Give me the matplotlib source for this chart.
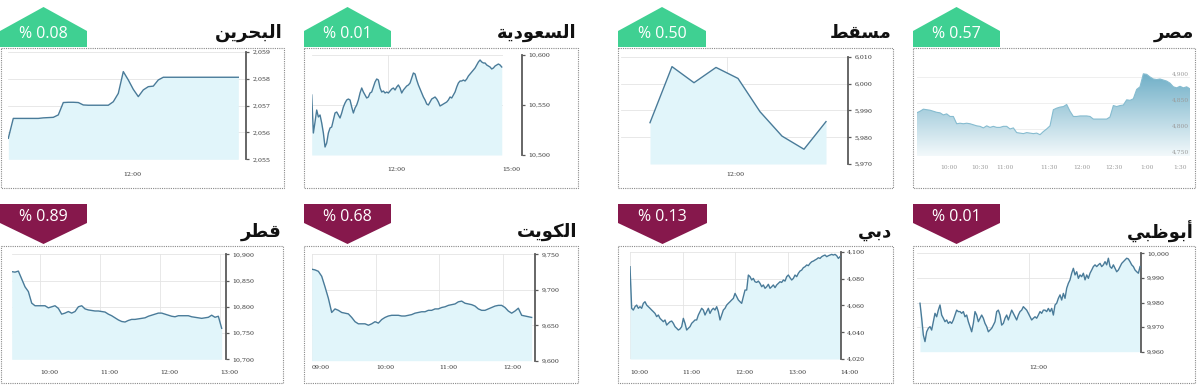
import numpy as np
import matplotlib.pyplot as plt
from matplotlib.patches import Polygon, Rectangle
from matplotlib.colors import LinearSegmentedColormap
from matplotlib.transforms import blended_transform_factory

W, H = 1200, 391

# ---------------- data ----------------
names = ['البحرين', 'السعودية', 'مسقط', 'مصر', 'قطر', 'الكويت', 'دبي', 'أبوظبي']
changes = ['% 0.08', '% 0.01', '% 0.50', '% 0.57', '% 0.89', '% 0.68', '% 0.13', '% 0.01']

bahrain = [2055.78, 2056.52, 2056.52, 2056.52, 2056.52, 2056.52, 2056.52, 2056.54, 2056.55, 2056.56,
           2056.65, 2057.11, 2057.12, 2057.12, 2057.11, 2057.02, 2057.01, 2057.01, 2057.01, 2057.01,
           2057.01, 2057.14, 2057.45, 2058.26, 2057.95, 2057.60, 2057.33, 2057.58, 2057.70, 2057.72,
           2057.95, 2058.05, 2058.05, 2058.05, 2058.05, 2058.05, 2058.05, 2058.05, 2058.05, 2058.05,
           2058.05, 2058.05, 2058.05, 2058.05, 2058.05, 2058.05, 2058.05]
bahrain_yticks = [2055, 2056, 2057, 2058, 2059]
bahrain_xlabels = ['12:00']

saudi = [10560, 10522, 10533, 10545, 10538, 10540, 10532, 10522, 10508, 10512,
         10522, 10527, 10528, 10535, 10542, 10543, 10540, 10537, 10542, 10548,
         10552, 10555, 10556, 10555, 10548, 10542, 10547, 10550, 10555, 10562,
         10567, 10563, 10560, 10557, 10558, 10562, 10563, 10568, 10573, 10576,
         10575, 10567, 10563, 10564, 10562, 10563, 10562, 10564, 10566, 10567,
         10565, 10568, 10570, 10567, 10562, 10565, 10567, 10569, 10570, 10572,
         10577, 10582, 10581, 10575, 10570, 10566, 10562, 10558, 10555, 10551,
         10550, 10553, 10556, 10557, 10558, 10556, 10553, 10549, 10550, 10551,
         10552, 10553, 10555, 10558, 10557, 10560, 10563, 10568, 10572, 10574,
         10574, 10575, 10574, 10576, 10579, 10581, 10583, 10585, 10587, 10590,
         10593, 10595, 10593, 10592, 10592, 10590, 10589, 10588, 10586, 10587,
         10589, 10590, 10591, 10590, 10588]
saudi_yticks = [10500, 10550, 10600]
saudi_xlabels = ['12:00', '15:00']

muscat = [5985.4, 6006.3, 6000.3, 6006.0, 6001.9, 5989.5, 5980.4, 5975.5, 5985.8]
muscat_yticks = [5970, 5980, 5990, 6000, 6010]
muscat_xlabels = ['12:00']

egypt = [4831, 4834, 4838, 4837, 4836, 4834, 4832, 4831, 4827, 4829,
         4824, 4824, 4810, 4811, 4810, 4811, 4810, 4808, 4806, 4805,
         4802, 4806, 4803, 4805, 4803, 4803, 4805, 4805, 4800, 4802,
         4793, 4792, 4791, 4793, 4792, 4791, 4792, 4789, 4795, 4800,
         4806, 4837, 4840, 4842, 4843, 4847, 4834, 4824, 4824, 4825,
         4825, 4825, 4824, 4819, 4819, 4819, 4819, 4819, 4823, 4845,
         4843, 4845, 4846, 4856, 4855, 4858, 4876, 4881, 4906, 4905,
         4900, 4896, 4895, 4896, 4894, 4892, 4888, 4881, 4879, 4882,
         4879, 4881, 4877]
egypt_yticks = [4750, 4800, 4850, 4900]
egypt_xlabels = ['10:00', '10:30', '11:00', '11:30', '12:00', '12:30', '1:00', '1:30']

qatar = [10867, 10866, 10868, 10853, 10838, 10829, 10807, 10802, 10802, 10802,
         10802, 10798, 10800, 10802, 10797, 10786, 10788, 10791, 10788, 10791,
         10800, 10802, 10796, 10794, 10793, 10792, 10792, 10791, 10790, 10786,
         10783, 10779, 10775, 10772, 10771, 10774, 10776, 10776, 10777, 10778,
         10779, 10782, 10784, 10786, 10788, 10788, 10786, 10784, 10782, 10781,
         10783, 10783, 10783, 10783, 10781, 10780, 10779, 10778, 10779, 10780,
         10784, 10780, 10782, 10759]
qatar_yticks = [10700, 10750, 10800, 10850, 10900]
qatar_xlabels = ['10:00', '11:00', '12:00', '13:00']

kuwait = [9729, 9728, 9726, 9719, 9704, 9688, 9668, 9673, 9671, 9668,
          9667, 9666, 9661, 9655, 9652, 9652, 9652, 9650, 9652, 9655,
          9653, 9658, 9661, 9663, 9664, 9664, 9664, 9663, 9663, 9664,
          9665, 9667, 9668, 9669, 9669, 9671, 9671, 9673, 9673, 9675,
          9676, 9678, 9679, 9680, 9683, 9684, 9681, 9680, 9679, 9677,
          9673, 9671, 9671, 9673, 9675, 9677, 9678, 9678, 9675, 9670,
          9667, 9670, 9674, 9664, 9663, 9662, 9661]
kuwait_yticks = [9600, 9650, 9700, 9750]
kuwait_xlabels = ['09:00', '10:00', '11:00', '12:00']

dubai = [4088.8, 4057.8, 4056.5, 4059.0, 4060.2, 4057.8, 4059.0, 4057.8, 4061.5, 4062.7,
         4060.2, 4059.0, 4057.8, 4056.5, 4055.3, 4054.0, 4051.6, 4052.8, 4050.3, 4049.1,
         4047.8, 4049.1, 4045.3, 4046.6, 4047.8, 4048.3, 4046.6, 4044.1, 4042.9, 4041.6,
         4042.4, 4044.1, 4050.3, 4046.6, 4041.6, 4042.9, 4044.1, 4046.6, 4047.8, 4049.1,
         4049.1, 4052.8, 4055.3, 4057.8, 4056.5, 4052.8, 4055.3, 4057.8, 4054.0, 4056.5,
         4057.8, 4056.5, 4059.0, 4055.3, 4049.1, 4052.8, 4056.5, 4057.8, 4060.2, 4061.5,
         4062.7, 4064.0, 4065.2, 4068.9, 4066.5, 4064.0, 4062.7, 4061.5, 4066.5, 4071.4,
         4071.4, 4082.6, 4081.4, 4078.9, 4080.1, 4077.6, 4077.1, 4078.1, 4076.4, 4073.9,
         4075.2, 4072.7, 4073.9, 4075.7, 4072.7, 4073.9, 4075.2, 4073.2, 4075.2, 4076.4,
         4077.6, 4077.1, 4078.9, 4078.1, 4081.4, 4082.6, 4080.6, 4078.9, 4080.1, 4082.6,
         4081.4, 4083.9, 4085.6, 4086.3, 4088.1, 4088.8, 4090.1, 4089.6, 4091.3, 4092.5,
         4093.0, 4093.8, 4094.5, 4095.5, 4095.0, 4096.3, 4097.0, 4097.5, 4096.3, 4097.0,
         4097.5, 4098.0, 4097.5, 4098.0, 4097.0, 4095.0, 4096.3]
dubai_yticks = [4020, 4040, 4060, 4080, 4100]
dubai_xlabels = ['10:00', '11:00', '12:00', '13:00', '14:00']

abudhabi = [9979.7, 9973.6, 9966.8, 9964.1, 9968.1, 9969.5, 9970.2, 9968.8, 9972.2, 9975.6,
            9974.2, 9976.9, 9979.0, 9974.9, 9973.6, 9972.2, 9972.9, 9971.5, 9972.2, 9971.5,
            9972.9, 9974.9, 9976.9, 9976.3, 9976.3, 9975.6, 9976.3, 9974.2, 9974.9, 9972.2,
            9970.2, 9968.1, 9971.5, 9976.3, 9974.9, 9972.2, 9973.6, 9974.9, 9973.6, 9971.5,
            9970.2, 9968.1, 9968.8, 9969.5, 9970.8, 9972.2, 9976.3, 9976.9, 9974.9, 9970.8,
            9971.5, 9973.6, 9974.9, 9972.9, 9974.9, 9976.9, 9975.6, 9974.2, 9972.9, 9974.9,
            9976.3, 9976.9, 9978.3, 9977.6, 9976.9, 9975.6, 9974.2, 9972.9, 9973.6, 9974.2,
            9973.6, 9974.9, 9976.3, 9975.6, 9976.9, 9976.9, 9976.3, 9977.6, 9976.3, 9977.6,
            9974.9, 9979.0, 9979.7, 9981.7, 9983.1, 9981.0, 9983.7, 9981.7, 9985.8, 9987.8,
            9989.2, 9991.9, 9993.9, 9991.2, 9992.5, 9989.8, 9991.2, 9990.5, 9991.9, 9989.2,
            9991.2, 9989.8, 9991.9, 9993.2, 9994.6, 9995.3, 9994.6, 9995.3, 9995.9, 9994.6,
            9995.3, 9996.6, 9995.3, 9998.0, 9994.6, 9993.9, 9995.3, 9993.9, 9992.5, 9993.2,
            9994.6, 9995.9, 9996.6, 9997.3, 9998.0, 9997.7, 9996.6, 9995.3, 9994.6, 9993.2,
            9992.5, 9991.9, 9994.6]
abudhabi_yticks = [9960, 9970, 9980, 9990, 10000]
abudhabi_xlabels = ['12:00']

# ---------------- style ----------------
GREEN = '#3fd092'
MAROON = '#86184c'
FILL = '#e1f5fa'
LINE = '#497b99'
AXIS = '#5a5a5a'
GRID = '#e4e4e4'
TICKFONT = 'DejaVu Serif'

# arabic presentation forms (isolated, final, initial, medial)
FORMS = {
    'ا': (0xFE8D, 0xFE8E), 'أ': (0xFE83, 0xFE84),
    'ب': (0xFE8F, 0xFE90, 0xFE91, 0xFE92), 'ة': (0xFE93, 0xFE94),
    'ت': (0xFE95, 0xFE96, 0xFE97, 0xFE98), 'ح': (0xFEA1, 0xFEA2, 0xFEA3, 0xFEA4),
    'د': (0xFEA9, 0xFEAA), 'ر': (0xFEAD, 0xFEAE),
    'س': (0xFEB1, 0xFEB2, 0xFEB3, 0xFEB4), 'ص': (0xFEB9, 0xFEBA, 0xFEBB, 0xFEBC),
    'ط': (0xFEC1, 0xFEC2, 0xFEC3, 0xFEC4), 'ظ': (0xFEC5, 0xFEC6, 0xFEC7, 0xFEC8),
    'ع': (0xFEC9, 0xFECA, 0xFECB, 0xFECC), 'ق': (0xFED5, 0xFED6, 0xFED7, 0xFED8),
    'ك': (0xFED9, 0xFEDA, 0xFEDB, 0xFEDC), 'ل': (0xFEDD, 0xFEDE, 0xFEDF, 0xFEE0),
    'م': (0xFEE1, 0xFEE2, 0xFEE3, 0xFEE4), 'ن': (0xFEE5, 0xFEE6, 0xFEE7, 0xFEE8),
    'و': (0xFEED, 0xFEEE), 'ي': (0xFEF1, 0xFEF2, 0xFEF3, 0xFEF4),
}


def shape_ar(word):
    # join letters and flip to visual order (matplotlib has no bidi)
    out = []
    for i, ch in enumerate(word):
        f = FORMS[ch]
        joins_prev = i > 0 and len(FORMS[word[i - 1]]) == 4
        joins_next = i < len(word) - 1 and len(f) == 4
        if joins_prev and joins_next:
            c = f[3]
        elif joins_prev:
            c = f[1]
        elif joins_next:
            c = f[2]
        else:
            c = f[0]
        out.append(chr(c))
    return ''.join(out[::-1])


fig = plt.figure(figsize=(12, 3.91), dpi=100)
bg = fig.add_axes([0, 0, 1, 1])
bg.set_xlim(0, W)
bg.set_ylim(H, 0)
bg.axis('off')


def add_ax(left, right, top, bottom):
    return fig.add_axes([left / W, 1 - bottom / H, (right - left) / W, (bottom - top) / H])


def fmt(v):
    return f'{v:,}'


# frames, badges, titles
frames = [(1, 48, 284, 188), (304, 48, 578, 188), (618, 48, 893, 188), (913, 48, 1195, 188),
          (1, 246, 283, 383), (304, 246, 578, 383), (618, 246, 893, 383), (913, 246, 1195, 383)]
badges = [(0, 87), (304, 391), (618, 706), (913, 1000),
          (0, 87), (304, 391), (618, 707), (913, 1000)]

for i, (fr, bd) in enumerate(zip(frames, badges)):
    x0, y0, x1, y1 = fr
    bg.add_patch(Rectangle((x0, y0), x1 - x0, y1 - y0, fill=False, ec='#8a8a8a', lw=0.8, ls=(0, (1, 1))))
    xl, xr = bd
    mid = (xl + xr) / 2
    if i < 4:
        pts = [(xl, 47), (xl, 31), (mid, 7), (xr, 31), (xr, 47)]
        col, ty, tt = GREEN, 34, 33
    else:
        pts = [(xl, 204), (xr, 204), (xr, 223), (mid, 244), (xl, 223)]
        col, ty, tt = MAROON, 217, 232
    bg.add_patch(Polygon(pts, closed=True, fc=col, ec='none'))
    bg.text(mid, ty, changes[i], ha='center', va='center', color='white', fontsize=11.5, family='Open Sans')
    bg.text(x1 - 1, tt, shape_ar(names[i]), ha='right', va='center', fontsize=13,
            weight='bold', family='DejaVu Sans', color='#111')


def chart(values, box, x0, step, yticks, xticks, xlabels, label_y, vgrid=True, offset=0):
    left, right, top, bottom = box
    ax = add_ax(left, right, top, bottom)
    x = np.arange(len(values))
    ax.fill_between(x, values, yticks[0], color=FILL, lw=0, zorder=1)
    ax.plot(x, values, color=LINE, lw=1.0, zorder=3)
    ax.set_xlim((left - x0) / step, (right - x0) / step)
    ax.set_ylim(yticks[0], yticks[-1])
    for s in ['top', 'left', 'bottom']:
        ax.spines[s].set_visible(False)
    ax.spines['right'].set_color(AXIS)
    ax.spines['right'].set_linewidth(1.3)
    if offset:
        ax.spines['right'].set_position(('outward', offset * 0.72))
    ax.yaxis.tick_right()
    ax.set_yticks(yticks, [fmt(v) for v in yticks])
    ax.set_xticks(xticks, xlabels)
    ax.tick_params(axis='y', length=2.5, width=0.9, color=AXIS, pad=2, labelsize=4.5, labelcolor='#333')
    ax.tick_params(axis='x', length=0, pad=(label_y - bottom - 3) * 0.72, labelsize=4.5, labelcolor='#333')
    for t in ax.get_xticklabels():
        t.set_ha('left')
    for t in ax.get_xticklabels() + ax.get_yticklabels():
        t.set_family(TICKFONT)
    ax.grid(axis='y', color=GRID, lw=0.6)
    if vgrid:
        ax.grid(axis='x', color=GRID, lw=0.6)
    ax.set_axisbelow(True)
    return ax


chart(bahrain, (8.3, 246, 51.7, 159.3), 8.3, 5.0, bahrain_yticks, [23], bahrain_xlabels, 175, vgrid=False)
chart(saudi, (311.7, 503.3, 55, 155), 311.7, 1.667, saudi_yticks, [45.6, 114.6], saudi_xlabels, 170, offset=18.3)
chart(muscat, (620.7, 848.3, 56.7, 164), 650, 22, muscat_yticks, [3.48], muscat_xlabels, 175)
chart(qatar, (11.7, 226, 254.3, 359.3), 11.7, 3.333, qatar_yticks, [8.5, 26.5, 44.5, 62.5], qatar_xlabels, 373)
chart(kuwait, (311.7, 535, 254.3, 360.7), 311.7, 3.333, kuwait_yticks, [0, 19.3, 38.3, 57.5], kuwait_xlabels, 368)
chart(dubai, (630, 840.7, 251.7, 359), 630, 1.667, dubai_yticks, [0, 31.6, 63, 95, 126], dubai_xlabels, 373)
chart(abudhabi, (916.7, 1140.7, 253.3, 351.7), 920, 1.667, abudhabi_yticks, [65.6], abudhabi_xlabels, 368)

# egypt: gradient area, no axis line
ax = add_ax(916.7, 1190, 53, 156)
x = np.arange(len(egypt))
cmap = LinearSegmentedColormap.from_list('eg', ['#f3f9fb', '#6cadc6'])
im = ax.imshow(np.linspace(0, 1, 256).reshape(-1, 1), extent=[0, len(egypt) - 1, 4748, 4910],
               origin='lower', aspect='auto', cmap=cmap, zorder=1)
poly = ax.fill_between(x, egypt, 4748, color='none', lw=0)
im.set_clip_path(poly.get_paths()[0], transform=ax.transData)
ax.plot(x, egypt, color='#86bcd0', lw=0.8, zorder=3)
ax.set_xlim(0, (1190 - 916.7) / 3.333)
ax.set_ylim(4748, 4946)
for s in ax.spines.values():
    s.set_visible(False)
ax.set_yticks([])
for v in egypt_yticks:
    ax.axhline(v, color='#ececec', lw=0.6, zorder=0)
tr = blended_transform_factory(ax.transAxes, ax.transData)
for v in egypt_yticks:
    ax.text(0.995, v, fmt(v), transform=tr, ha='right', va='bottom', fontsize=4.3, color='#9a9a9a',
            family=TICKFONT, zorder=5)
ax.set_xticks([9.7, 19.0, 26.5, 39.7, 49.6, 59.2, 69.1, 79.0], egypt_xlabels)
ax.tick_params(axis='x', length=0, pad=(168 - 156 - 3) * 0.72, labelsize=4.3, labelcolor='#9a9a9a')
for t in ax.get_xticklabels():
    t.set_family(TICKFONT)

fig.savefig('out.png', dpi=100)
